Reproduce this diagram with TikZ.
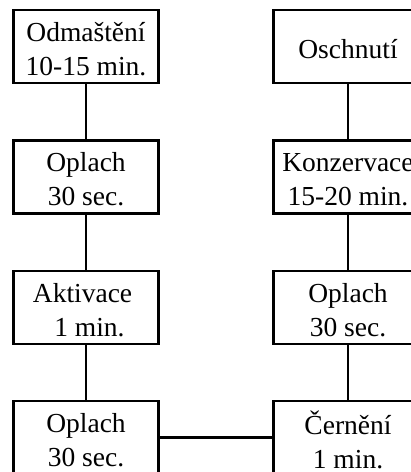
\documentclass[tikz,border=0pt]{standalone}
\usepackage{fontspec}
\setmainfont{Liberation Serif}
\begin{document}
\begin{tikzpicture}[x=1pt,y=1pt,
  stepbox/.style={draw, line width=2.8pt, rectangle, inner sep=0pt,
    minimum height=73pt,
    label={[align=center, inner sep=0pt, yshift=-2.5pt,
      font=\fontsize{27.5}{34}\selectfont]center:#1}},
  lbox/.style={stepbox={#1}, minimum width=145pt},
  rbox/.style={stepbox={#1}, minimum width=149pt},
  conn/.style={line width=2.8pt}]
\useasboundingbox (0,0) rectangle (411,472);
\clip (0,0) rectangle (411,472);
\node[lbox={Odmaštění\\10-15 min.}] (l1) at (86,425.5) {};
\node[lbox={Oplach\\30 sec.}] (l2) at (86,295) {};
\node[lbox={Aktivace\hspace*{0.25em}\\\hspace*{0.25em}1 min.}] (l3) at (86,164.5) {};
\node[lbox={Oplach\\30 sec.}] (l4) at (86,34.5) {};
\node[rbox={Oschnutí}] (r1) at (348,425.5) {};
\node[rbox={Konzervace\\15-20 min.}] (r2) at (348,295) {};
\node[rbox={Oplach\\30 sec.}] (r3) at (348,164.5) {};
\node[rbox={Černění\\1 min.}] (r4) at (348,34.5) {};
\draw[conn] (l1) -- (l2);
\draw[conn] (l2) -- (l3);
\draw[conn] (l3) -- (l4);
\draw[conn] (l4) -- (r4);
\draw[conn] (r4) -- (r3);
\draw[conn] (r3) -- (r2);
\draw[conn] (r2) -- (r1);
\end{tikzpicture}
\end{document}
